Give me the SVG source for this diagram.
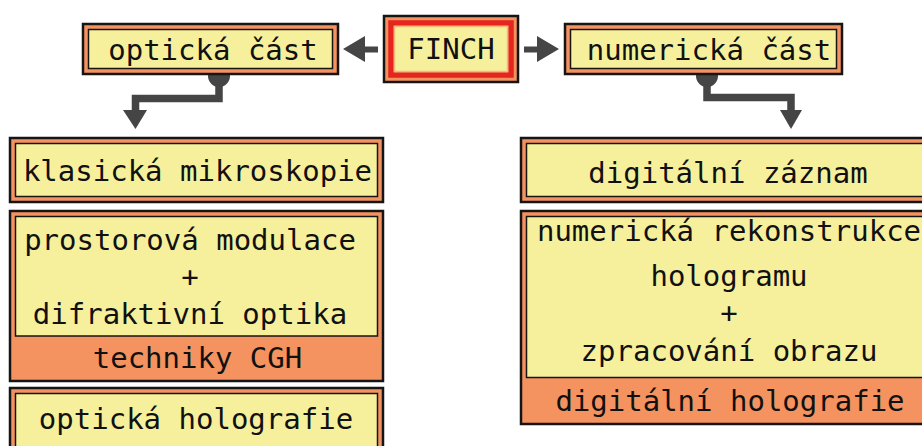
<svg xmlns="http://www.w3.org/2000/svg" width="922" height="446" viewBox="0 0 922 446">
<defs>
<style>
.o{fill:#F4935F;stroke:#151515;stroke-width:2.5}
.y{fill:#F6F09C;stroke:#151515;stroke-width:1.5}
.t{font-family:"DejaVu Sans Mono","Liberation Mono",monospace;font-size:29px;fill:#111;text-anchor:middle}
.c{fill:none;stroke:#454545;stroke-width:7.5}
.h{fill:#454545}
</style>
</defs>
<rect width="922" height="446" fill="#fff"/>
<g id="connectors">
<polygon class="h" points="343,49 365,36 365,46.5 378,46.5 378,52.5 365,52.5 365,62"/>
<polygon class="h" points="559,49 537,36 537,46.5 524,46.5 524,52.5 537,52.5 537,62"/>
<path class="c" d="M219,76 V98.5 H135.5 V112"/>
<circle class="h" cx="219" cy="76" r="11"/>
<polygon class="h" points="123,110 147,110 135.5,129"/>
<path class="c" d="M707,76 V97.5 H791 V112"/>
<circle class="h" cx="707" cy="76" r="11"/>
<polygon class="h" points="780,110 802,110 791,129"/>
</g>
<g id="finch">
<rect class="o" x="384" y="16" width="134" height="66"/>
<rect x="391" y="23" width="120" height="52" fill="#F6F09C" stroke="#E5261F" stroke-width="5.5"/>
<rect x="394.5" y="26.5" width="113" height="45" fill="none" stroke="#F7B87E" stroke-width="1.5"/>
<text class="t" x="451" y="59">FINCH</text>
</g>
<g id="opticka-cast">
<rect class="o" x="83" y="24" width="255" height="50"/>
<rect class="y" x="88.5" y="29.5" width="244" height="39"/>
<text class="t" x="213" y="60">optická část</text>
</g>
<g id="numericka-cast">
<rect class="o" x="565" y="24" width="277" height="50"/>
<rect class="y" x="570.5" y="29.5" width="266" height="39"/>
<text class="t" x="709" y="60">numerická část</text>
</g>
<g id="klasicka-mikroskopie">
<rect class="o" x="10" y="138" width="373" height="64"/>
<rect class="y" x="15.5" y="143.5" width="362" height="53"/>
<text class="t" x="197.5" y="181">klasická mikroskopie</text>
</g>
<g id="techniky-cgh">
<rect class="o" x="10" y="211" width="373" height="170"/>
<rect class="y" x="15.5" y="216.5" width="362" height="119.5"/>
<text class="t" x="190" y="250">prostorová modulace</text>
<text class="t" x="190" y="287">+</text>
<text class="t" x="190" y="324">difraktivní optika</text>
<text class="t" x="197.5" y="368">techniky CGH</text>
</g>
<g id="opticka-holografie">
<rect class="o" x="10" y="388" width="373" height="80"/>
<rect class="y" x="15.5" y="393.5" width="362" height="69"/>
<text class="t" x="196" y="429">optická holografie</text>
</g>
<g id="digitalni-zaznam">
<rect class="o" x="521" y="138" width="440" height="64"/>
<rect class="y" x="526.5" y="143.5" width="429" height="53"/>
<text class="t" x="728" y="183">digitální záznam</text>
</g>
<g id="digitalni-holografie">
<rect class="o" x="521" y="211" width="440" height="213"/>
<rect class="y" x="526.5" y="216.5" width="429" height="161"/>
<text class="t" x="729" y="241">numerická rekonstrukce</text>
<text class="t" x="729" y="286">hologramu</text>
<text class="t" x="729" y="323">+</text>
<text class="t" x="729" y="361">zpracování obrazu</text>
<text class="t" x="730" y="411">digitální holografie</text>
</g>
</svg>
